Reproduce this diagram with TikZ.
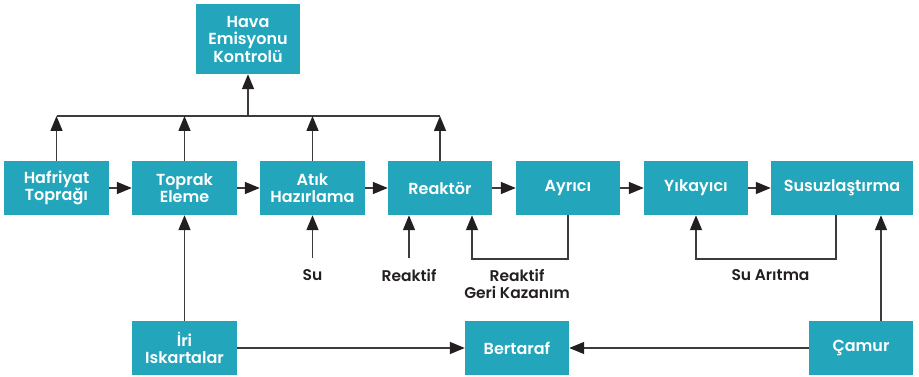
\documentclass[tikz,border=0pt]{standalone}
\usepackage{fontspec}
\setmainfont{Poppins}[BoldFont={Poppins SemiBold}]
\usetikzlibrary{arrows.meta}
\definecolor{boxteal}{HTML}{23A6BB}
\definecolor{linegray}{HTML}{3C3C3C}
\definecolor{tipdark}{HTML}{231F20}
\definecolor{labeldark}{HTML}{231F20}
\tikzset{
  procbox/.style={fill=boxteal, text=white, align=center, inner sep=0pt,
    minimum width=105pt, minimum height=54pt,
    font=\fontsize{16}{17.5}\selectfont\bfseries},
  flow/.style={draw=linegray, line width=1.5pt,
    -{Triangle[length=15pt, width=12pt, color=tipdark, fill=tipdark]}},
  plain/.style={draw=linegray, line width=1.5pt},
  inlabel/.style={text=labeldark, align=center, inner sep=0pt,
    font=\fontsize{15.5}{17}\selectfont\bfseries},
}
\begin{document}
\begin{tikzpicture}[x=1pt, y=-1pt]
\useasboundingbox (0,0) rectangle (919,377);

% top: air emission control
\node[procbox, minimum width=104pt, minimum height=70pt] (hava) at (248,39) {Hava\\Emisyonu\\Kontrolü};

% main process line
\node[procbox] (hafriyat) at (56.5,188) {Hafriyat\\Toprağı};
\node[procbox] (toprak)   at (184.5,188) {Toprak\\Eleme};
\node[procbox] (atik)     at (312.5,188) {Atık\\Hazırlama};
\node[procbox, minimum width=104pt] (reaktor)  at (440,188) {Reaktör};
\node[procbox, minimum width=104pt] (ayrici)   at (568,188) {Ayrıcı};
\node[procbox, minimum width=104pt] (yikayici) at (696,188) {Yıkayıcı};
\node[procbox, minimum width=142pt] (susuz)    at (842,188) {Susuzlaştırma};

% bottom row
\node[procbox] (iri)      at (184.5,348) {İri\\Iskartalar};
\node[procbox, minimum width=104pt] (bertaraf) at (517,348) {Bertaraf};
\node[procbox, minimum width=104pt] (camur)    at (861,348) {Çamur};

% collector line feeding the emission control
\coordinate (busL) at (56.5,116);
\coordinate (busR) at (440,116);
\coordinate (busM) at (248,116);
\draw[plain] (busL) -- (busR);
\draw[flow] (busM) -- (hava.south);
\draw[flow] (hafriyat.north) -- (hafriyat.north |- busL);
\draw[flow] (toprak.north) -- (toprak.north |- busL);
\draw[flow] (atik.north) -- (atik.north |- busL);
\draw[flow] (reaktor.north) -- (reaktor.north |- busL);

% main flow
\draw[flow] (hafriyat) -- (toprak);
\draw[flow] (toprak) -- (atik);
\draw[flow] (atik) -- (reaktor);
\draw[flow] (reaktor) -- (ayrici);
\draw[flow] (ayrici) -- (yikayici);
\draw[flow] (yikayici) -- (susuz);

% inputs
\coordinate (suIn) at (312.5,258);
\coordinate (reakIn) at (409,258);
\node[inlabel] (suLbl) at (312.5,275) {Su};
\node[inlabel] (reakLbl) at (409,275) {Reaktif};
\draw[flow] (suIn) -- (atik.south);
\draw[flow] (reakIn) -- (reakIn |- reaktor.south);

% reagent recovery loop
\coordinate (rgkR) at (568,259);
\coordinate (rgkL) at (472,259);
\draw[flow] (ayrici.south) -- (rgkR) -- (rgkL) -- (rgkL |- reaktor.south);
\node[inlabel] (rgkLbl) at (517,283.5) {Reaktif\\Geri Kazanım};

% water treatment loop
\coordinate (suaR) at (836,259);
\coordinate (suaL) at (696,259);
\draw[flow] (suaR |- susuz.south) -- (suaR) -- (suaL) -- (yikayici.south);
\node[inlabel] (suaLbl) at (770.5,275) {Su Arıtma};

% disposal
\draw[flow] (iri) -- (toprak);
\draw[flow] (iri) -- (bertaraf);
\draw[flow] (camur) -- (bertaraf);
\draw[flow] ([xshift=20pt]camur.north) -- ([xshift=20pt]camur.north |- susuz.south);
\end{tikzpicture}
\end{document}
